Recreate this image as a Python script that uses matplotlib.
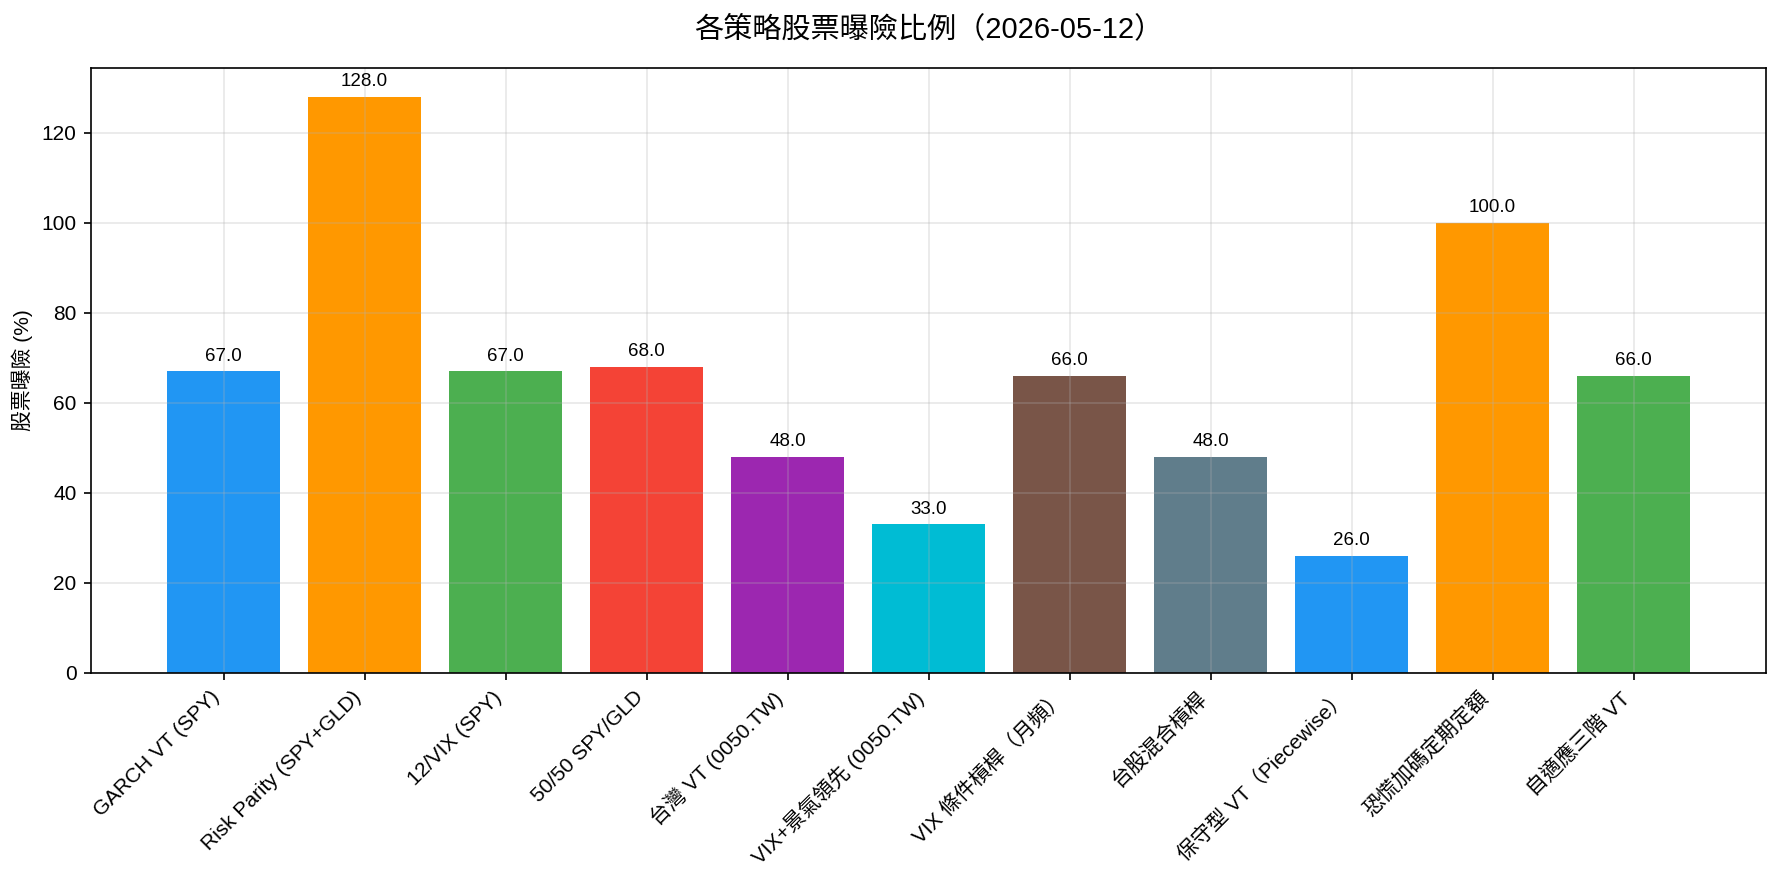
import matplotlib
matplotlib.use('Agg')
import matplotlib.pyplot as plt

# 拉丁字用 Helvetica 類字型，中文回退到 Noto CJK
plt.rcParams['font.family'] = ['Liberation Sans', 'Noto Sans CJK TC', 'DejaVu Sans']
plt.rcParams['axes.unicode_minus'] = False

# 資料
strategies = [
    'GARCH VT (SPY)', 'Risk Parity (SPY+GLD)', '12/VIX (SPY)', '50/50 SPY/GLD',
    '台灣 VT (0050.TW)', 'VIX+景氣領先 (0050.TW)', 'VIX 條件槓桿（月頻）', '台股混合槓桿',
    '保守型 VT（Piecewise）', '恐慌加碼定期定額', '自適應三階 VT',
]
exposure = [67.0, 128.0, 67.0, 68.0, 48.0, 33.0, 66.0, 48.0, 26.0, 100.0, 66.0]
palette = ['#2196F3', '#FF9800', '#4CAF50', '#F44336', '#9C27B0',
           '#00BCD4', '#795548', '#607D8B']
colors = [palette[i % len(palette)] for i in range(len(strategies))]

fig = plt.figure(figsize=(1782 / 150, 884 / 150), dpi=150)
ax = fig.add_axes([0.0511, 0.2387, 0.94, 0.6843])

x = list(range(len(strategies)))
bars = ax.bar(x, exposure, color=colors, width=0.8)
for b, v in zip(bars, exposure):
    ax.text(b.get_x() + b.get_width() / 2, v + 1.5, f'{v:.1f}',
            ha='center', va='bottom', fontsize=9)

ax.set_xticks(x)
ax.set_xticklabels(strategies, rotation=45, ha='right', fontsize=10)
ax.set_ylabel('股票曝險 (%)', fontsize=10)
ax.grid(True, alpha=0.3)
ax.set_title('各策略股票曝險比例（2026-05-12）', fontsize=14, pad=15)

fig.savefig('out.png', dpi=150)
